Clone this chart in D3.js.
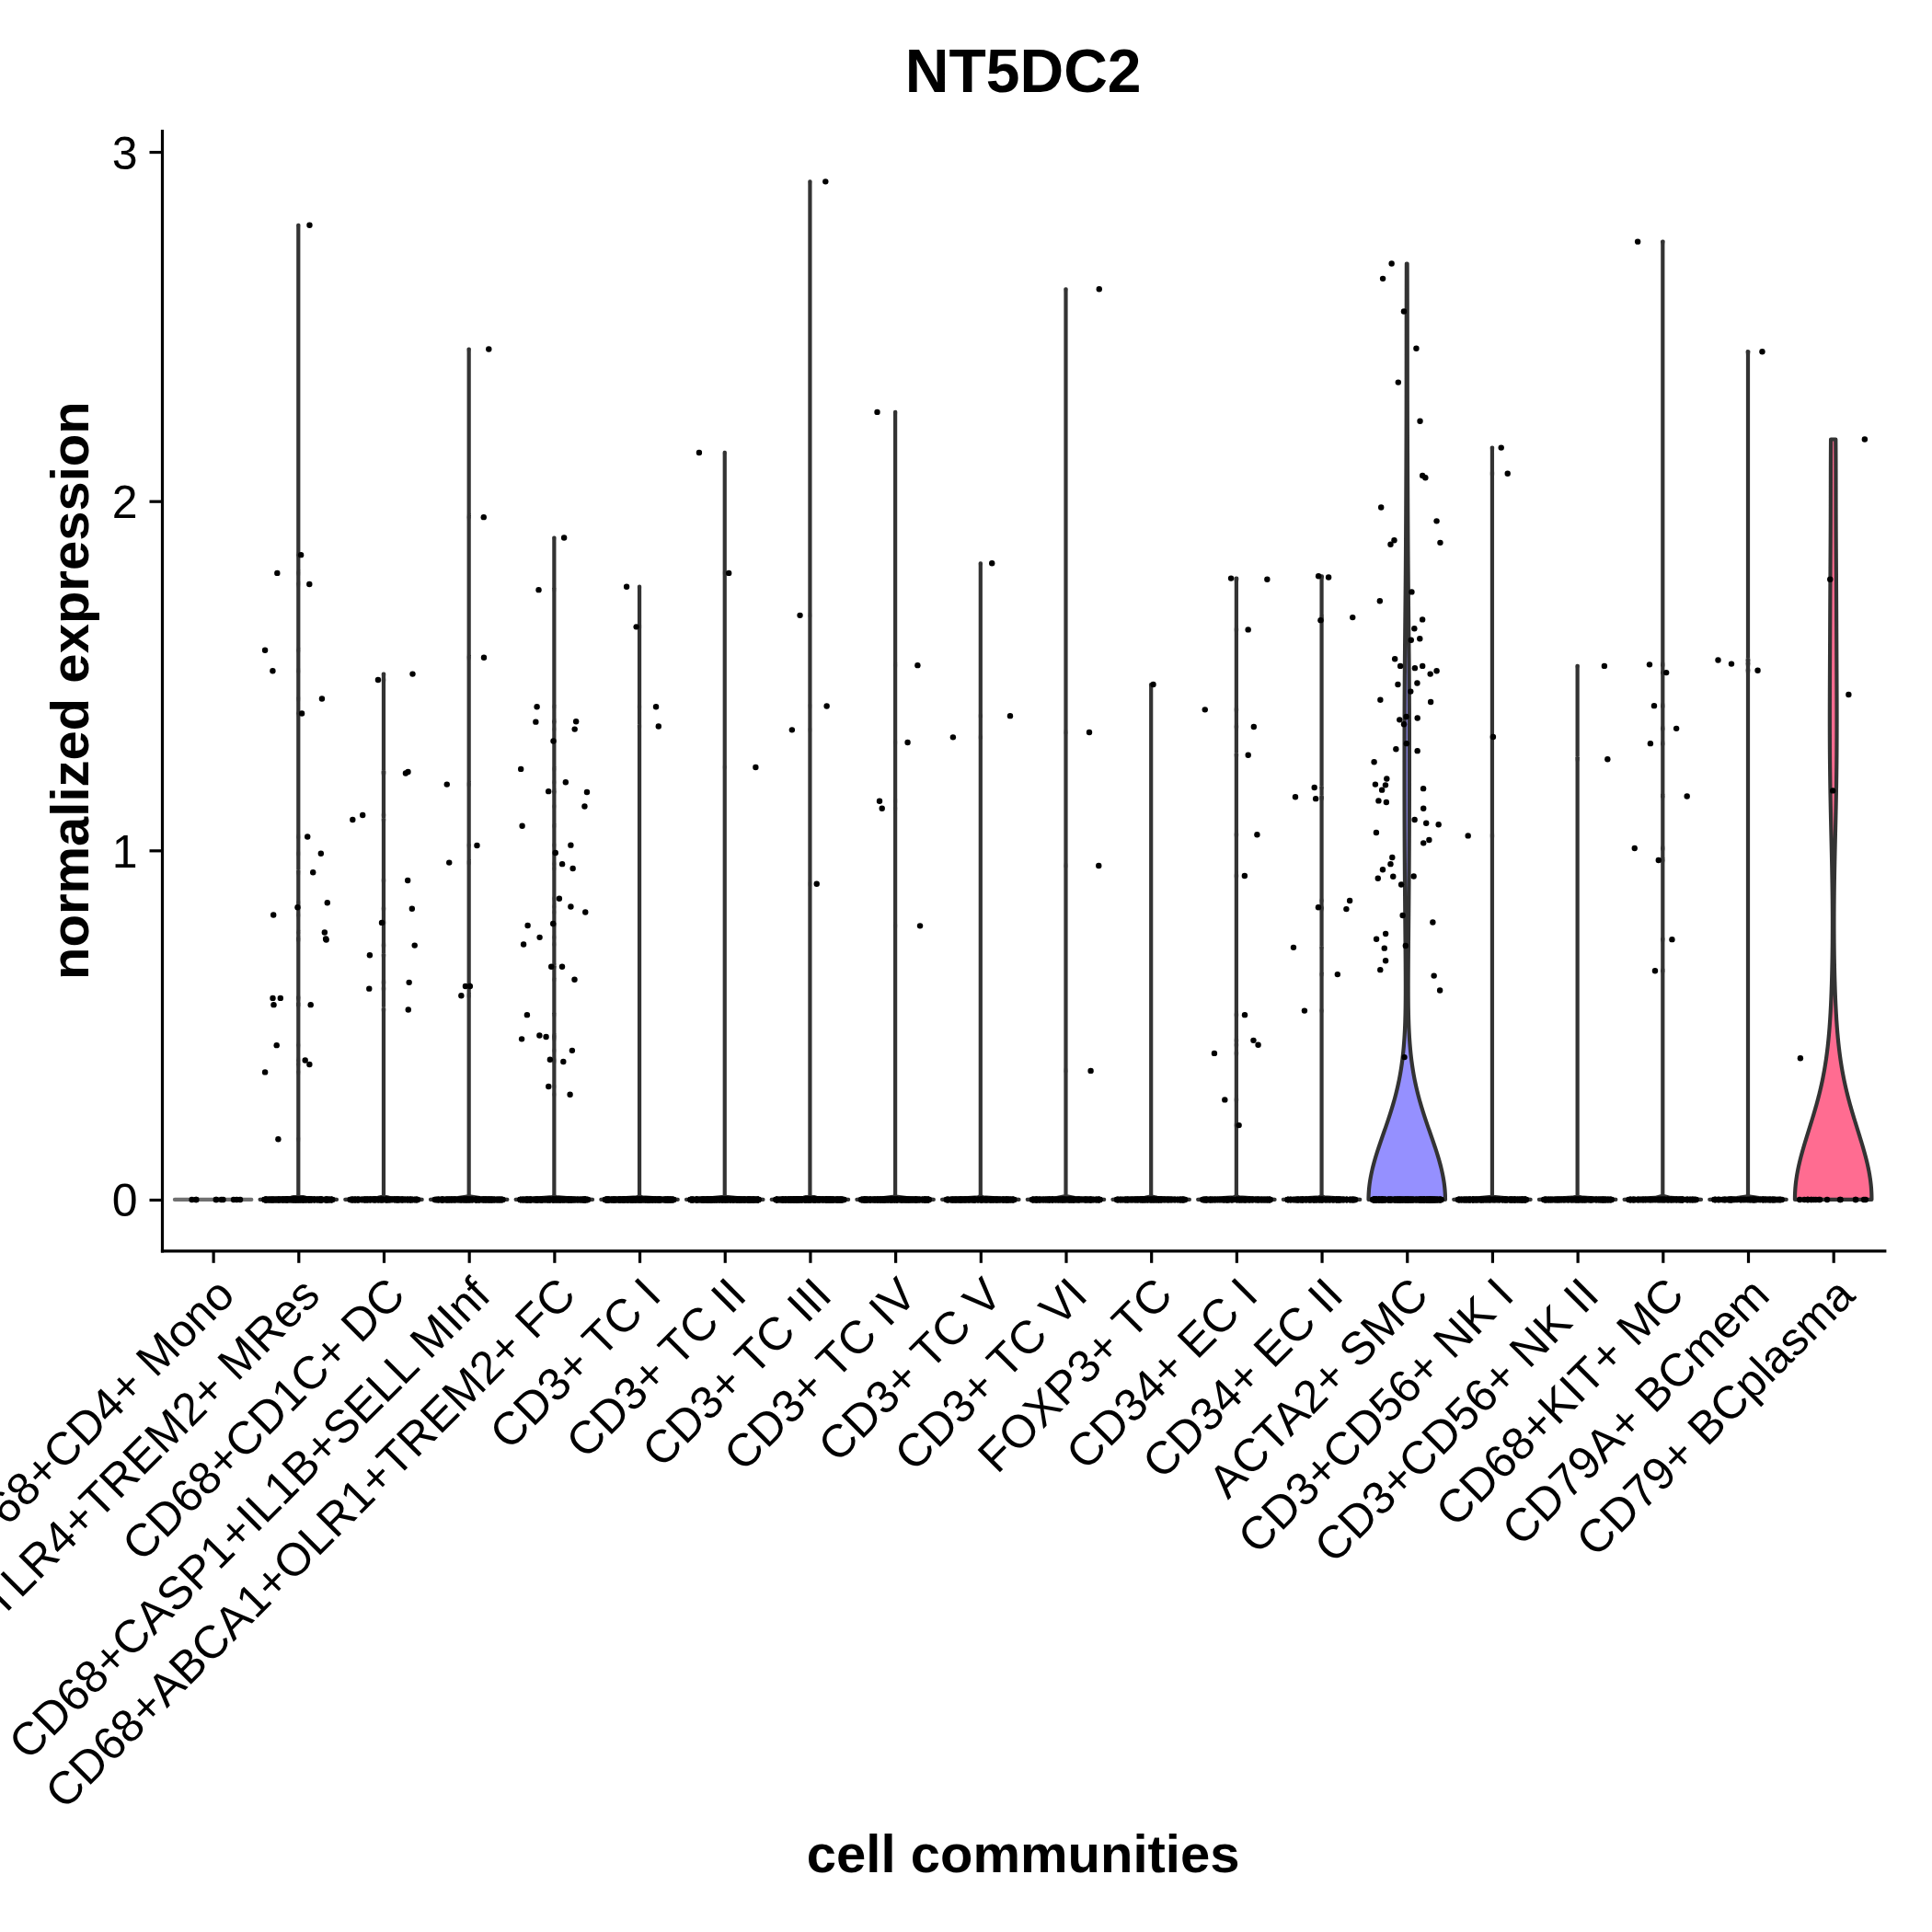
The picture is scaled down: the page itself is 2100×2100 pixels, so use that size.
<!DOCTYPE html>
<html>
<head>
<meta charset="utf-8">
<script src="https://cdn.jsdelivr.net/npm/d3@7"></script>
<style>
  body { margin: 0; background: #ffffff; }
  text { font-family: "Liberation Sans", Arial, Helvetica, sans-serif; }
</style>
</head>
<body>
<svg id="chart" width="2100" height="2100"></svg>
<script>
// ---------------- data ----------------
const chartTitle = "NT5DC2";
const xAxisTitle = "cell communities";
const yAxisTitle = "normalized expression";

const categories = [
  "CD68+CD4+ Mono",
  "CD68+TLR4+TREM2+ MRes",
  "CD68+CD1C+ DC",
  "CD68+CASP1+IL1B+SELL MInf",
  "CD68+ABCA1+OLR1+TREM2+ FC",
  "CD3+ TC I",
  "CD3+ TC II",
  "CD3+ TC III",
  "CD3+ TC IV",
  "CD3+ TC V",
  "CD3+ TC VI",
  "FOXP3+ TC",
  "CD34+ EC I",
  "CD34+ EC II",
  "ACTA2+ SMC",
  "CD3+CD56+ NK I",
  "CD3+CD56+ NK II",
  "CD68+KIT+ MC",
  "CD79A+ BCmem",
  "CD79+ BCplasma"
];

// number of cells with zero expression in each community (estimated from the dense band at 0)
const zeroCounts = [10, 300, 200, 250, 300, 400, 400, 400, 350, 300, 250, 200, 200, 200, 400, 250, 200, 150, 120, 18];

// non-zero expression values per community
const nonzeroValues = [
  [],
  [2.79, 1.846, 1.794, 1.762, 1.573, 1.514, 1.434, 1.392, 1.039, 0.991, 0.937, 0.85, 0.837, 0.815, 0.765, 0.747, 0.744, 0.577, 0.577, 0.558, 0.558, 0.442, 0.399, 0.387, 0.365, 0.173],
  [1.505, 1.488, 1.225, 1.221, 1.101, 1.088, 0.914, 0.833, 0.793, 0.728, 0.70, 0.622, 0.604, 0.544],
  [2.435, 1.954, 1.552, 1.189, 1.014, 0.965, 0.611, 0.611, 0.584],
  [1.895, 1.746, 1.411, 1.369, 1.368, 1.347, 1.313, 1.233, 1.195, 1.169, 1.167, 1.126, 1.07, 1.015, 0.993, 0.961, 0.948, 0.862, 0.839, 0.823, 0.79, 0.785, 0.751, 0.731, 0.667, 0.667, 0.63, 0.529, 0.47, 0.466, 0.46, 0.427, 0.401, 0.395, 0.324, 0.301],
  [1.755, 1.64, 1.411, 1.355],
  [2.139, 1.794, 1.238],
  [2.915, 1.673, 1.413, 1.345, 0.904],
  [2.255, 1.53, 1.309, 1.141, 1.12, 0.784],
  [1.822, 1.385, 1.324],
  [2.607, 1.338, 0.956, 0.369],
  [1.475],
  [1.779, 1.776, 1.632, 1.403, 1.354, 1.273, 1.045, 0.927, 0.529, 0.456, 0.443, 0.419, 0.286, 0.213],
  [1.785, 1.782, 1.667, 1.659, 1.18, 1.153, 1.148, 0.856, 0.837, 0.832, 0.722, 0.645, 0.541],
  [2.68, 2.637, 2.543, 2.437, 2.34, 2.229, 2.073, 2.067, 1.982, 1.943, 1.888, 1.881, 1.876, 1.74, 1.714, 1.661, 1.635, 1.606, 1.602,
   1.548, 1.528, 1.528, 1.522, 1.514, 1.505, 1.479, 1.475, 1.455, 1.431, 1.425, 1.383, 1.379, 1.374, 1.361, 1.306, 1.29, 1.285, 1.253,
   1.205, 1.189, 1.187, 1.177, 1.173, 1.142, 1.138, 1.12, 1.088, 1.078, 1.074, 1.051, 1.03, 1.021, 0.98, 0.961, 0.945, 0.926, 0.925,
   0.92, 0.902, 0.814, 0.794, 0.761, 0.746, 0.727, 0.72, 0.684, 0.658, 0.641, 0.599, 0.408],
  [2.153, 2.079, 1.325, 1.042],
  [1.528, 1.261],
  [2.743, 1.532, 1.509, 1.414, 1.349, 1.306, 1.155, 1.006, 0.972, 0.745, 0.655],
  [2.428, 1.545, 1.534, 1.515],
  [2.177, 1.776, 1.446, 1.171, 0.405]
];

// kernel bandwidth of each violin's density estimate
const bandwidths = [0.003, 0.003, 0.003, 0.003, 0.003, 0.003, 0.003, 0.003, 0.003, 0.003,
                    0.003, 0.003, 0.003, 0.003, 0.19, 0.003, 0.003, 0.003, 0.003, 0.2];

const yTicks = [0, 1, 2, 3];

// ggplot2 default hue palette for 20 groups
const fillColors = ["#F8766D","#EA8331","#D89000","#C09B00","#A3A500","#7CAE00","#39B600","#00BB4E","#00BF7D","#00C1A3",
                    "#00BFC4","#00BAE0","#00B0F6","#35A2FF","#9590FF","#C77CFF","#E76BF3","#FA62DB","#FF62BC","#FF6C91"];

// ---------------- layout ----------------
const W = 2100, H = 2100;
const panel = { left: 176, right: 2048.3, top: 142, bottom: 1359.3 };
const tickFont = 50;

const svg = d3.select("#chart").attr("viewBox", `0 0 ${W} ${H}`);
svg.append("rect").attr("width", W).attr("height", H).attr("fill", "#ffffff");

const x = d3.scalePoint().domain(categories).range([panel.left, panel.right]).padding(0.6);
const step = x.step();

const allVals = nonzeroValues.flat().concat([0]);
const vMin = d3.min(allVals), vMax = d3.max(allVals);
const R = vMax - vMin;
const y = d3.scaleLinear().domain([vMin - 0.05 * R, vMax + 0.05 * R]).range([panel.bottom, panel.top]);

// ---------------- violins ----------------
const halfWidth = 0.45 * step;
const violinG = svg.append("g");

categories.forEach((cat, i) => {
  const vals = new Array(zeroCounts[i]).fill(0).concat(nonzeroValues[i]);
  const lo = d3.min(vals), hi = d3.max(vals);
  const bw = bandwidths[i];
  let pts;
  if (hi === lo) {
    pts = [{ v: lo, w: 1 }, { v: hi, w: 1 }];
  } else {
    const n = 512;
    pts = d3.range(n).map(k => {
      const v = lo + (hi - lo) * k / (n - 1);
      const d = d3.sum(vals, xv => Math.exp(-0.5 * ((v - xv) / bw) ** 2));
      return { v, d };
    });
    const dMax = d3.max(pts, p => p.d);
    pts.forEach(p => { p.w = p.d / dMax; });
  }
  const cx = x(cat);
  const area = d3.area()
    .x0(p => cx - p.w * halfWidth)
    .x1(p => cx + p.w * halfWidth)
    .y(p => y(p.v));
  violinG.append("path")
    .attr("d", area(pts))
    .attr("fill", fillColors[i])
    .attr("stroke", "#333333")
    .attr("stroke-opacity", hi === lo ? 0.7 : 1)
    .attr("stroke-width", 4.2)
    .attr("stroke-linejoin", "round");
});

// ---------------- jittered points ----------------
const rng = d3.randomLcg(0.1234);
const jitter = d3.randomUniform.source(rng)(-0.4, 0.4);
const pointG = svg.append("g");
categories.forEach((cat, i) => {
  const vals = new Array(zeroCounts[i]).fill(0).concat(nonzeroValues[i]);
  const cx = x(cat);
  pointG.selectAll(null)
    .data(vals)
    .enter().append("circle")
    .attr("cx", () => cx + jitter() * step)
    .attr("cy", v => y(v))
    .attr("r", 3.2)
    .attr("fill", "#000000");
});

// ---------------- axes ----------------
const yAxis = d3.axisLeft(y).tickValues(yTicks).tickFormat(d3.format("d"))
  .tickSizeInner(13.5).tickSizeOuter(0).tickPadding(13);
const yG = svg.append("g").attr("transform", `translate(${panel.left},0)`).call(yAxis);
yG.selectAll("text").attr("font-size", tickFont).attr("fill", "#000").attr("dy", "0.36em")
  .style("font-family", '"Liberation Sans", Arial, Helvetica, sans-serif');

const xAxis = d3.axisBottom(x).tickSizeInner(13.5).tickSizeOuter(0);
const xG = svg.append("g").attr("transform", `translate(0,${panel.bottom})`).call(xAxis);
xG.selectAll("text")
  .attr("font-size", tickFont).attr("fill", "#000")
  .attr("x", 0).attr("y", 0).attr("dy", "0.716em")
  .attr("text-anchor", "end")
  .attr("transform", "translate(0,25.7) rotate(-45)")
  .style("font-family", '"Liberation Sans", Arial, Helvetica, sans-serif');

[yG, xG].forEach(g => {
  g.attr("font-family", null).attr("font-size", null);
  g.select(".domain").attr("stroke", "#000").attr("stroke-width", 3.2).attr("stroke-linecap", "square");
  g.selectAll(".tick line").attr("stroke", "#000").attr("stroke-width", 3.2);
});

// ---------------- titles ----------------
const cxPanel = (panel.left + panel.right) / 2;
const cyPanel = (panel.top + panel.bottom) / 2;

svg.append("text")
  .attr("x", cxPanel).attr("y", 100.4)
  .attr("text-anchor", "middle")
  .attr("font-size", 66).attr("font-weight", "bold")
  .text(chartTitle);

svg.append("text")
  .attr("x", cxPanel).attr("y", 2035)
  .attr("text-anchor", "middle")
  .attr("font-size", 58).attr("font-weight", "bold")
  .text(xAxisTitle);

svg.append("text")
  .attr("transform", `translate(96,${cyPanel}) rotate(-90)`)
  .attr("text-anchor", "middle")
  .attr("font-size", 58).attr("font-weight", "bold")
  .text(yAxisTitle);
</script>
</body>
</html>
